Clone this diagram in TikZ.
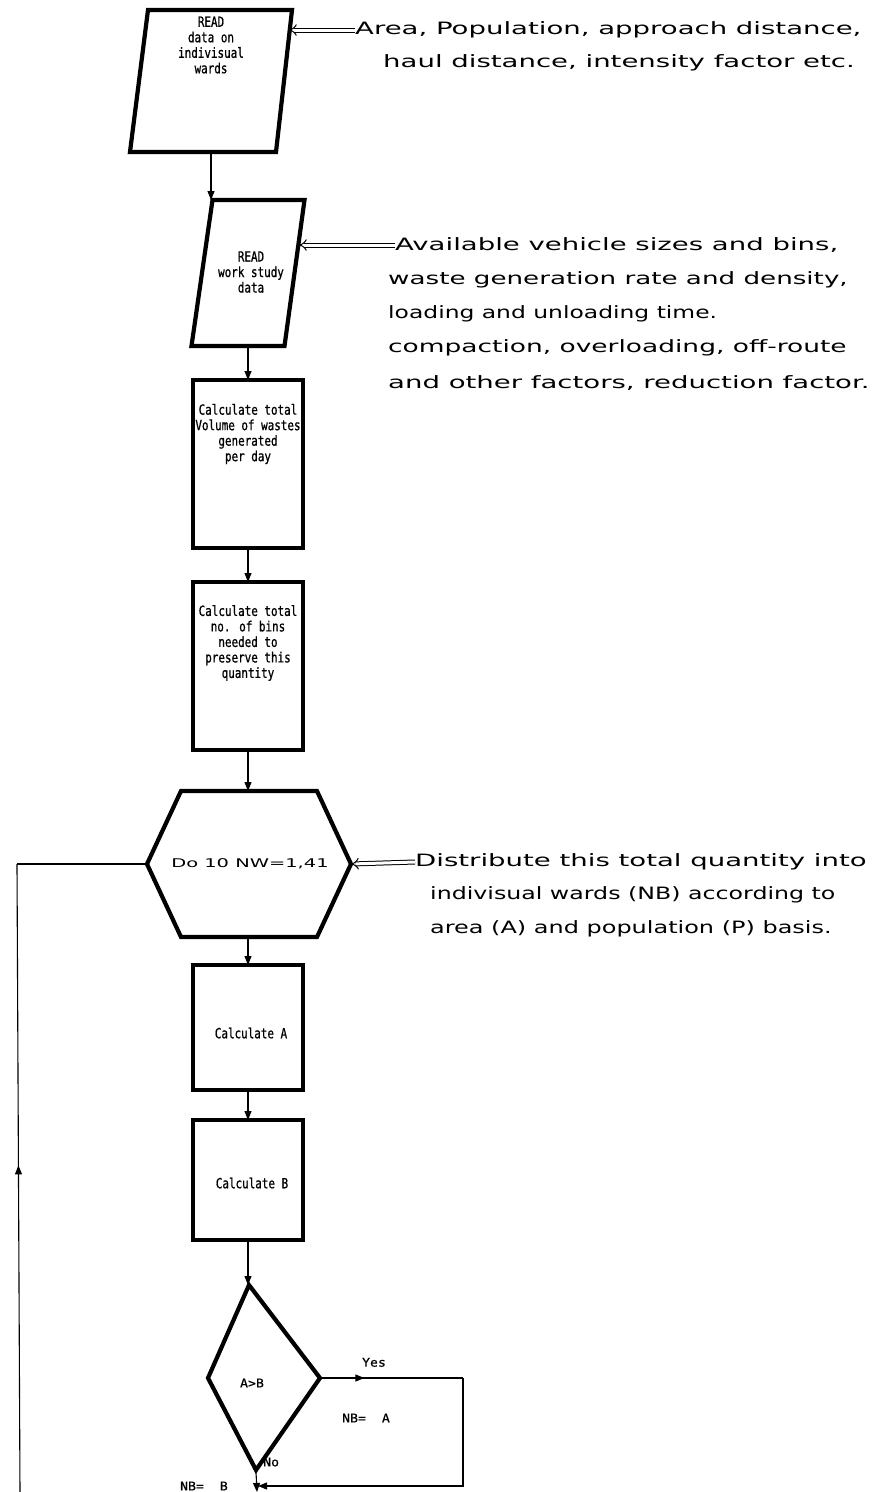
\documentclass[tikz,border=0pt]{standalone}
\usepackage{fontspec}
\usepackage{graphicx}
\usetikzlibrary{arrows.meta,decorations.markings,calc}
% dot-matrix style lettering: wide sans for notes, fixed pitch inside boxes
\newfontfamily\dmfont[FakeStretch=1.62]{DejaVu Sans}
\newfontfamily\bxfont[FakeStretch=0.78,FakeBold=0.8]{DejaVu Sans Mono}
\newfontfamily\lblfont[FakeStretch=1.1,FakeBold=0.6]{DejaVu Sans Mono}
% horizontally squeeze one printed line
\newcommand{\narrow}[2]{\scalebox{#1}[1]{#2}}

\tikzset{
  outline/.style={draw, line width=4.2pt, line join=miter},
  frame/.style={inner sep=0pt, outer sep=0pt},
  procbox/.style={outline, frame, minimum width=110pt},
  flow/.style={line width=1.1pt, -{Triangle[length=9pt,width=7pt]}},
  feed/.style={double, double distance=3pt, line width=1pt, -{Implies}},
  boxtext/.style={font=\bxfont\fontsize{14}{15.5}\selectfont, align=center, inner sep=0pt},
  sidetext/.style={font=\dmfont\fontsize{17}{20}\selectfont, anchor=west, inner sep=0pt},
  small/.style={font=\lblfont\fontsize{12}{13}\selectfont, inner sep=0pt},
  midarrow/.style={postaction={decorate}, decoration={markings,
      mark=at position #1 with {\arrow{Triangle[length=9pt,width=7pt]}}}},
}

\begin{document}
\begin{tikzpicture}[x=1pt, y=-1pt]
  \useasboundingbox[fill=white] (0,0) rectangle (880,1492);

  % ---- input 1: ward data (parallelogram)
  \node[frame, minimum width=162pt, minimum height=142pt] (p1) at (211,81) {};
  \draw[outline] ([xshift=18pt]p1.north west) -- (p1.north east)
        -- ([xshift=-16pt]p1.south east) -- (p1.south west) -- cycle;
  \node[boxtext] (p1t) at (211,45) {READ\\data on\\indivisual\\wards};

  % ---- input 2: work study data (parallelogram)
  \node[frame, minimum width=113pt, minimum height=146pt] (p2) at (248,273) {};
  \draw[outline] ([xshift=21pt]p2.north west) -- (p2.north east)
        -- ([xshift=-20pt]p2.south east) -- (p2.south west) -- cycle;
  \node[boxtext] (p2t) at (251,272) {READ\\work study\\data};

  % ---- process boxes
  \node[procbox, minimum height=168pt] (r3) at (248,464) {};
  \node[boxtext] (r3t) at (248,434) {Calculate total\\Volume of wastes\\generated\\per day};

  \node[procbox, minimum height=168pt] (r4) at (248,666) {};
  \node[boxtext] (r4t) at (248,643) {Calculate total\\no. of bins\\needed to\\preserve this\\quantity};

  % ---- loop header (hexagon)
  \node[frame, minimum width=204pt, minimum height=146pt] (hex) at (249,864) {};
  \draw[outline] (hex.west) -- ([xshift=34pt]hex.north west) -- ([xshift=-34pt]hex.north east)
        -- (hex.east) -- ([xshift=-34pt]hex.south east) -- ([xshift=34pt]hex.south west) -- cycle;
  \node[font=\dmfont\fontsize{12}{14}\selectfont, inner sep=0pt] (hext) at (250,864) {Do 10 NW=1,41};

  \node[procbox, minimum height=125pt] (ra) at (248,1027.5) {};
  \node[boxtext] (rat) at (251,1033) {Calculate A};

  \node[procbox, minimum height=120pt] (rb) at (248,1180) {};
  \node[boxtext] (rbt) at (252,1183) {Calculate B};

  % ---- decision (diamond)
  \coordinate (dtop) at (249,1285);
  \coordinate (dright) at (320,1378);
  \coordinate (dbot) at (256,1470);
  \coordinate (dleft) at (208,1378);
  \draw[outline] (dtop) -- (dright) -- (dbot) -- (dleft) -- cycle;
  \node[small] (dt) at (252,1383) {A>B};

  % ---- main flow
  \draw[flow] (p1.south) -- (p1.south |- p2.north);
  \draw[flow] (p2.south) -- (r3.north);
  \draw[flow] (r3.south) -- (r4.north);
  \draw[flow] (r4.south) -- (r4.south |- hex.north);
  \draw[flow] (hex.south -| ra.north) -- (ra.north);
  \draw[flow] (ra.south) -- (rb.north);
  \draw[flow] (rb.south) -- (rb.south |- dtop);

  % ---- branches
  \coordinate (yc1) at (463,1378);
  \coordinate (yc2) at (463,1486);
  \coordinate (nbpt) at (258,1486);
  \coordinate (outpt) at (257,1492);
  \draw[line width=1.1pt, midarrow=0.32] ([xshift=-2pt]dright) -- (yc1);
  \draw[flow] (yc1) -- (yc2) -- (nbpt);
  \draw[flow] ([yshift=-2pt]dbot) -- (outpt);
  \node[small, anchor=south] (yes) at (374,1367) {Yes};
  \node[small] (nba) at (366,1418) {NB=~~A};
  \node[small, anchor=west] (no) at (263,1462) {No};
  \node[small, anchor=east] (nbb) at (228,1486) {NB=~~B};

  % ---- loop back to the header
  \coordinate (lbot) at (20,1492);
  \coordinate (ltop) at (17,864);
  \draw[line width=1.1pt, midarrow=0.52] (lbot) -- (ltop);
  \draw[line width=1.1pt] (ltop) -- (hex.west);

  % ---- notes
  \node[sidetext] (n1a) at (355,30) {Area, Population, approach distance,};
  \node[sidetext] (n1b) at (383,63) {haul distance, intensity factor etc.};
  \coordinate (e1) at (289,30);
  \draw[feed] (n1a.west) -- (e1);

  \node[sidetext] (n2a) at (395,245) {Available vehicle sizes and bins,};
  \node[sidetext] (n2b) at (388,280) {\narrow{0.95}{waste generation rate and density,}};
  \node[sidetext] (n2c) at (388,314) {\narrow{0.85}{loading and unloading time.}};
  \node[sidetext] (n2d) at (388,348) {\narrow{0.96}{compaction, overloading, off-route}};
  \node[sidetext] (n2e) at (388,383) {and other factors, reduction factor.};
  \coordinate (e2) at (299,245);
  \draw[feed] (n2a.west) -- (e2);

  \node[sidetext] (n3a) at (415,862) {Distribute this total quantity into};
  \node[sidetext] (n3b) at (430,895) {\narrow{0.86}{indivisual wards (NB) according to}};
  \node[sidetext] (n3c) at (430,929) {\narrow{0.87}{area (A) and population (P) basis.}};
  \draw[feed] (n3a.west) -- (hex.east);
\end{tikzpicture}
\end{document}
